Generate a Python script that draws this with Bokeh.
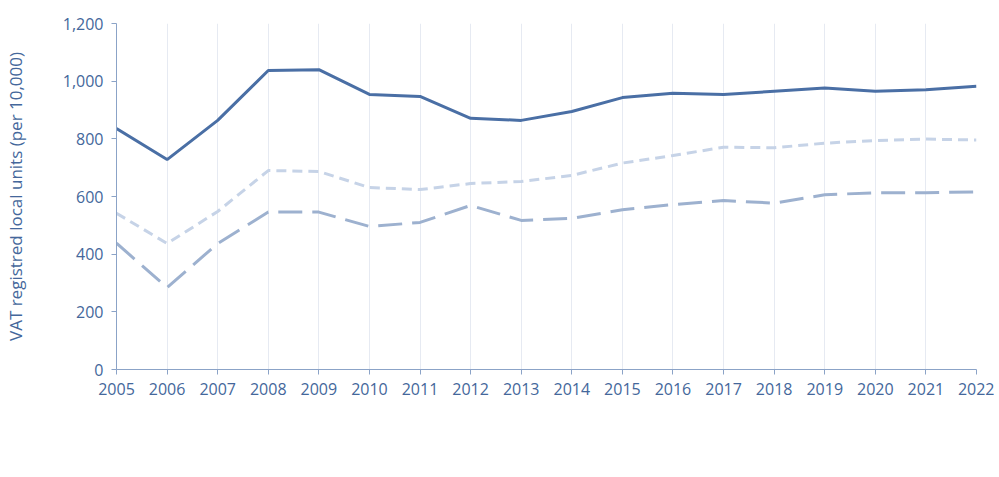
from bokeh.plotting import figure
from bokeh.models import Legend, LegendItem, FixedTicker, NumeralTickFormatter, Range1d
from bokeh.embed import file_html
from bokeh.resources import INLINE

years = list(range(2005, 2023))
west_oxfordshire = [836, 728, 864, 1037, 1040, 954, 947, 871, 864, 895, 943, 958, 954, 965, 976, 965, 970, 982]
oxford = [438, 284, 437, 546, 546, 496, 510, 569, 517, 524, 554, 572, 586, 577, 606, 613, 613, 616]
england = [542, 437, 548, 690, 687, 631, 624, 645, 652, 673, 716, 742, 771, 769, 785, 794, 799, 796]
y_ticks = [0, 200, 400, 600, 800, 1000, 1200]

TEXT = "#44679b"
FONT = "Open Sans"

p = figure(frame_width=860, frame_height=346, output_backend="svg", toolbar_location=None,
           x_range=Range1d(2005, 2022), y_range=Range1d(0, 1200),
           min_border_left=113, min_border_right=18, min_border_top=23, min_border_bottom=78)
p.outline_line_color = None

r1 = p.line(years, west_oxfordshire, line_color="#4a6fa5", line_width=3)
r2 = p.line(years, oxford, line_color="#9db1cf", line_width=3, line_dash="24 10")
r3 = p.line(years, england, line_color="#c6d3e7", line_width=3, line_dash="10 6")

p.xaxis.ticker = FixedTicker(ticks=years)
p.yaxis.ticker = FixedTicker(ticks=y_ticks)
p.yaxis.formatter = NumeralTickFormatter(format="0,0")
p.ygrid.grid_line_color = None
p.xgrid.grid_line_color = "#e6eaf2"
p.xaxis.minor_tick_line_color = None
p.yaxis.minor_tick_line_color = None
for ax in (p.xaxis, p.yaxis):
    ax.axis_line_color = "#8ba3c7"
    ax.major_tick_line_color = "#8ba3c7"
    ax.major_tick_in = 0
    ax.major_tick_out = 5
    ax.major_label_text_color = TEXT
    ax.major_label_text_font = FONT
    ax.major_label_text_font_size = "16px"
    ax.major_label_standoff = 8
p.yaxis.axis_label = "VAT registred local units (per 10,000)"
p.yaxis.axis_label_text_font = FONT
p.yaxis.axis_label_text_font_size = "17px"
p.yaxis.axis_label_text_font_style = "normal"
p.yaxis.axis_label_text_color = TEXT
p.yaxis.axis_label_standoff = 33

legend = Legend(items=[LegendItem(label="West Oxfordshire", renderers=[r1]),
                       LegendItem(label="Oxford", renderers=[r2]),
                       LegendItem(label="England", renderers=[r3])],
                orientation="horizontal", location="bottom_center",
                glyph_width=72, label_standoff=8, spacing=12, padding=0, margin=0,
                border_line_color=None, background_fill_alpha=0,
                label_text_font=FONT, label_text_font_size="17px", label_text_color=TEXT)
p.add_layout(legend, "below")

open("out.html", "w").write(file_html(p, INLINE))
